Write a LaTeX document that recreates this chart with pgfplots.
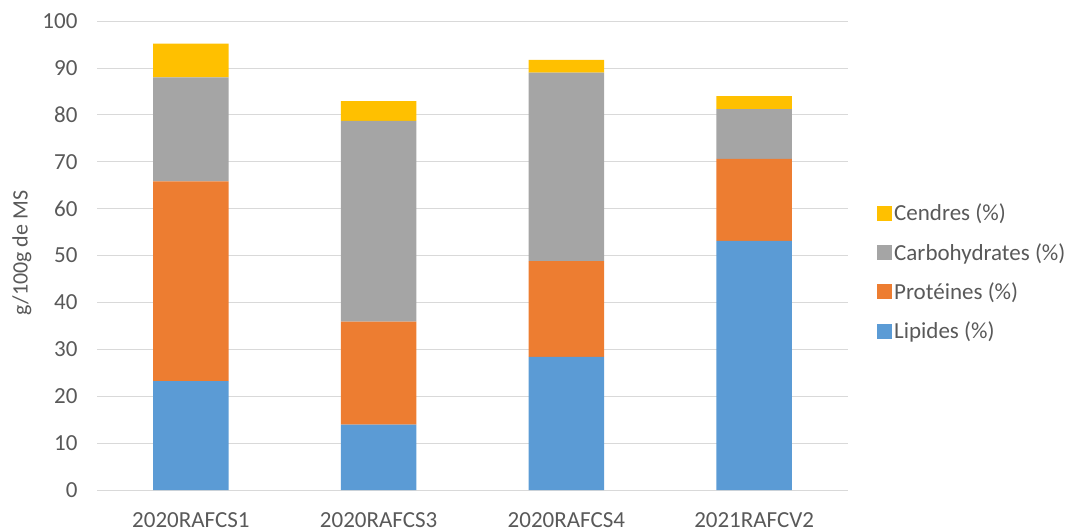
\documentclass[border=0pt]{standalone}
\usepackage{pgfplots}
\pgfplotsset{compat=1.18}
\usepackage{fontspec}
\setmainfont{Carlito}
\definecolor{cL}{HTML}{5B9BD5}
\definecolor{cP}{HTML}{ED7D31}
\definecolor{cC}{HTML}{A5A5A5}
\definecolor{cCe}{HTML}{FFC000}
\definecolor{txt}{HTML}{595959}
\definecolor{grd}{HTML}{D9D9D9}
\begin{document}
\begin{tikzpicture}
\path[use as bounding box] (0,0) rectangle (1075pt,531pt);
\begin{axis}[
  at={(97pt,41pt)}, anchor=south west,
  scale only axis, width=751pt, height=469pt,
  ybar stacked, bar width=75.7pt,
  xmin=-0.5, xmax=3.5, ymin=0, ymax=100,
  xtick=data, xticklabels={2020RAFCS1,2020RAFCS3,2020RAFCS4,2021RAFCV2},
  ytick={0,10,...,100},
  ymajorgrids, grid style={grd, line width=0.8pt},
  axis x line*=bottom, axis y line*=left,
  x axis line style={grd, line width=0.8pt, -},
  y axis line style={draw=none},
  major tick length=0pt,
  tick label style={font=\fontsize{23}{27}\selectfont, text=txt},
  xticklabel style={inner sep=1pt, yshift=-21pt},
  yticklabel style={xshift=-16pt},
  /pgf/number format/assume math mode=true,
  ylabel={g/100g de MS},
  ylabel style={font=\fontsize{22}{26}\selectfont, text=txt, at={(axis description cs:0,0.505)}, yshift=75pt, anchor=center},
  reverse legend,
  legend style={at={(1.0346,0.619)}, anchor=north west, draw=none, fill=none,
    font=\fontsize{23}{27}\selectfont, text=txt, row sep=17pt},
  legend cell align=left,
  legend image code/.code={\fill[#1] (0pt,-7.5pt) rectangle (15pt,7.5pt);},
]
\addplot[fill=cL, draw=none] coordinates {(0,23.2) (1,13.95) (2,28.4) (3,53.1)};
\addplot[fill=cP, draw=none] coordinates {(0,42.6) (1,21.95) (2,20.4) (3,17.5)};
\addplot[fill=cC, draw=none] coordinates {(0,22.2) (1,42.8) (2,40.2) (3,10.6)};
\addplot[fill=cCe, draw=none] coordinates {(0,7.2) (1,4.2) (2,2.7) (3,2.8)};
\legend{Lipides (\%), Protéines (\%), Carbohydrates (\%), Cendres (\%)}
\end{axis}
\end{tikzpicture}
\end{document}
